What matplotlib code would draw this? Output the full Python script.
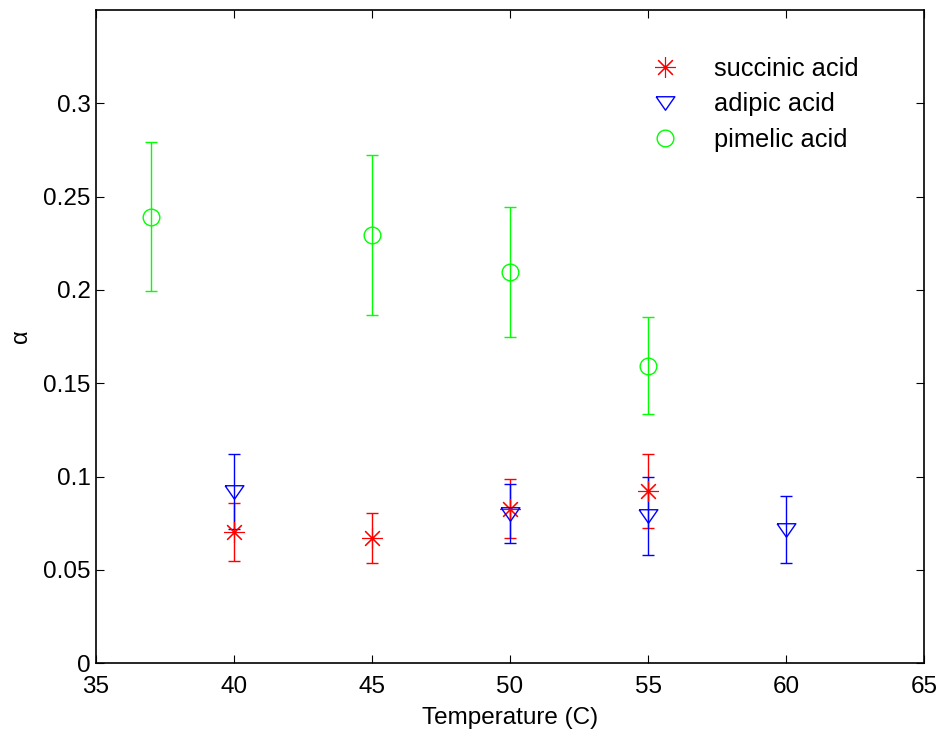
import matplotlib
matplotlib.use('Agg')
import matplotlib.pyplot as plt

plt.rcParams['font.family'] = ['Liberation Sans', 'DejaVu Sans']

# data
succ_t = [40, 45, 50, 55]
succ_a = [0.0702, 0.067, 0.0828, 0.0922]
succ_e = [0.0155, 0.0134, 0.0158, 0.0198]

adip_t = [40, 50, 55, 60]
adip_a = [0.0919, 0.0801, 0.0788, 0.0715]
adip_e = [0.0201, 0.0158, 0.0209, 0.018]

pime_t = [37, 45, 50, 55]
pime_a = [0.2393, 0.2294, 0.2095, 0.1594]
pime_e = [0.040, 0.0429, 0.0348, 0.026]

tri = [(-1, 0.72), (1, 0.72), (0, -0.72), (-1, 0.72)]

fig = plt.figure(figsize=(9.41, 7.29), dpi=100)
ax = fig.add_axes([0.102, 0.0905, 0.880, 0.8955])

ax.errorbar(succ_t, succ_a, yerr=succ_e, fmt='none', ecolor='red', elinewidth=1, capsize=4.3, capthick=1)
ax.errorbar(adip_t, adip_a, yerr=adip_e, fmt='none', ecolor='blue', elinewidth=1, capsize=4.3, capthick=1)
ax.errorbar(pime_t, pime_a, yerr=pime_e, fmt='none', ecolor='lime', elinewidth=1, capsize=4.3, capthick=1)

ax.plot(succ_t, succ_a, linestyle='none', marker=(8, 2, 0), markersize=15,
        color='red', markeredgewidth=0.8, label='succinic acid')
ax.plot(adip_t, adip_a, linestyle='none', marker=tri, markersize=13.5,
        markerfacecolor='none', markeredgecolor='blue', markeredgewidth=1, label='adipic acid')
ax.plot(pime_t, pime_a, linestyle='none', marker='o', markersize=12,
        markerfacecolor='none', markeredgecolor='lime', markeredgewidth=1, label='pimelic acid')

ax.set_xlim(35, 65)
ax.set_ylim(0, 0.35)
ax.set_xticks([35, 40, 45, 50, 55, 60, 65])
ax.set_yticks([0, 0.05, 0.1, 0.15, 0.2, 0.25, 0.3])
ax.set_yticklabels(['0', '0.05', '0.1', '0.15', '0.2', '0.25', '0.3'])
ax.tick_params(direction='in', top=True, right=True, length=6, width=0.8, labelsize=17.5)
ax.tick_params(axis='y', pad=4)
ax.tick_params(axis='x', pad=9)
for s in ax.spines.values():
    s.set_linewidth(1.2)

ax.set_xlabel('Temperature (C)', fontsize=17.5, labelpad=7)
ax.set_ylabel('α', fontsize=17, labelpad=8)

ax.legend(loc='upper right', frameon=False, fontsize=18.3, handletextpad=0.92,
          borderaxespad=1.45, labelspacing=0.44, bbox_to_anchor=(0.978, 1.0))

fig.savefig('out.png', dpi=100)
